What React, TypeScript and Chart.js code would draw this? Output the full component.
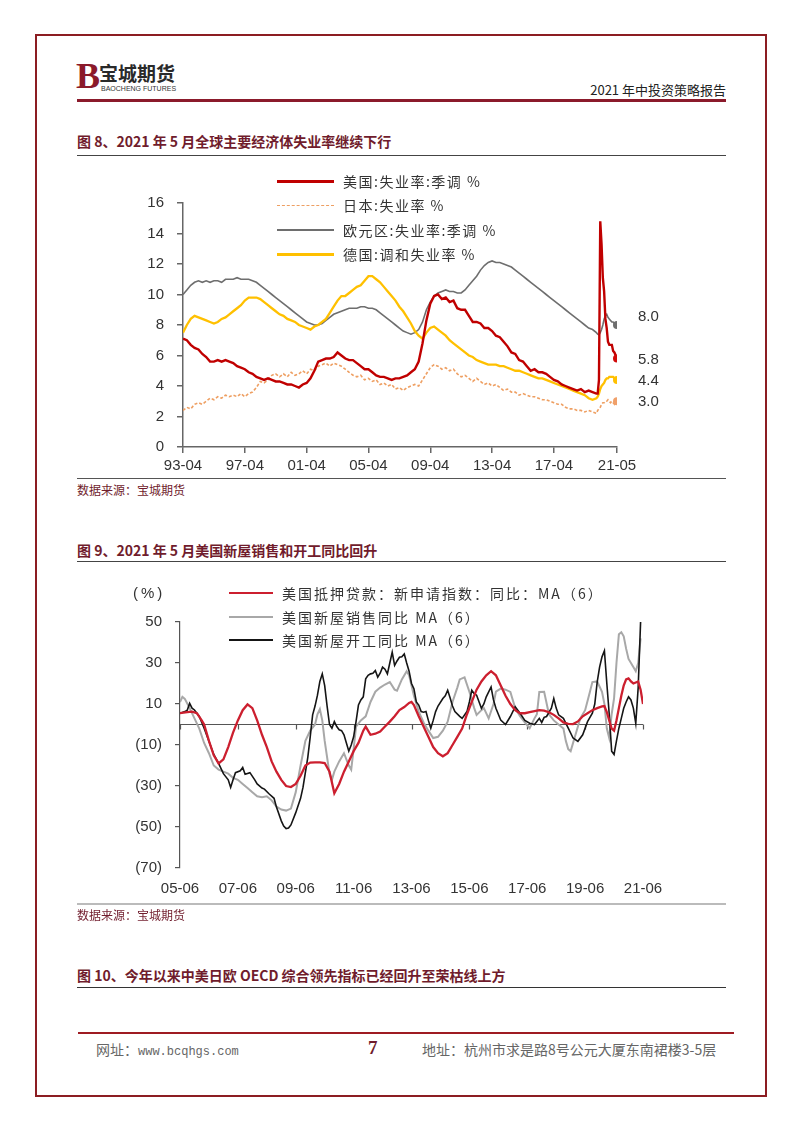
import React, { useEffect, useRef } from "react";
import { Chart, registerables } from "chart.js";

Chart.register(...registerables);

// ---------- Figure 8 data (x = months since 1993-04) ----------
const usRate: [number, number][] = [[0,7.1],[3,7.0],[6,6.7],[9,6.5],[12,6.4],[15,6.1],[18,5.9],[21,5.6],[24,5.6],[27,5.7],[30,5.6],[33,5.7],[36,5.6],[39,5.5],[42,5.3],[45,5.2],[48,5.1],[51,4.9],[54,4.8],[57,4.6],[60,4.5],[63,4.4],[66,4.5],[69,4.4],[72,4.3],[75,4.3],[78,4.2],[81,4.1],[84,4.1],[87,4.0],[90,3.9],[93,4.1],[96,4.2],[99,4.5],[102,5.0],[105,5.6],[108,5.7],[111,5.8],[114,5.8],[117,5.9],[120,6.2],[123,6.0],[126,5.8],[129,5.7],[132,5.7],[135,5.5],[138,5.3],[141,5.1],[144,5.1],[147,4.9],[150,4.7],[153,4.6],[156,4.6],[159,4.5],[162,4.4],[165,4.5],[168,4.5],[171,4.6],[174,4.7],[177,4.9],[180,5.1],[183,5.6],[186,6.8],[189,8.3],[192,9.4],[195,9.9],[198,10.0],[201,9.7],[204,9.8],[207,9.5],[210,9.6],[213,9.1],[216,9.0],[219,9.0],[222,8.6],[225,8.2],[228,8.2],[231,8.1],[234,7.8],[237,7.8],[240,7.6],[243,7.3],[246,7.2],[249,6.9],[252,6.6],[255,6.2],[258,6.1],[261,5.7],[264,5.6],[267,5.3],[270,5.0],[273,5.1],[276,4.9],[279,4.9],[282,4.8],[285,4.6],[288,4.4],[291,4.3],[294,4.1],[297,4.0],[300,3.9],[303,3.8],[306,3.7],[309,3.8],[312,3.6],[315,3.7],[318,3.6],[321,3.5],[322,3.5],[323,4.4],[324,14.8],[325,13.3],[326,11.1],[327,10.2],[328,8.4],[329,7.8],[330,6.9],[331,6.7],[332,6.7],[333,6.7],[334,6.3],[335,6.2],[336,6.0],[337,5.8]];

const japanRate: [number, number][] = [[0,2.4],[3,2.6],[6,2.5],[9,2.8],[12,2.9],[15,2.8],[18,3.0],[21,3.2],[24,3.1],[27,3.3],[30,3.2],[33,3.4],[36,3.3],[39,3.4],[42,3.3],[45,3.5],[48,3.3],[51,3.5],[54,3.6],[57,3.9],[60,4.3],[63,4.2],[66,4.4],[69,4.7],[72,4.8],[75,4.6],[78,4.8],[81,4.6],[84,4.9],[87,4.7],[90,4.8],[93,5.0],[96,4.8],[99,5.1],[102,5.0],[105,5.3],[108,5.4],[111,5.5],[114,5.3],[117,5.5],[120,5.4],[123,5.3],[126,5.1],[129,4.9],[132,4.7],[135,4.6],[138,4.7],[141,4.4],[144,4.5],[147,4.3],[150,4.4],[153,4.1],[156,4.2],[159,4.0],[162,4.1],[165,3.8],[168,3.9],[171,3.7],[174,3.9],[177,4.0],[180,4.1],[183,4.0],[186,4.4],[189,4.8],[192,5.2],[195,5.4],[198,5.3],[201,5.1],[204,5.2],[207,5.0],[210,5.1],[213,4.8],[216,4.6],[219,4.7],[222,4.5],[225,4.3],[228,4.5],[231,4.3],[234,4.1],[237,4.2],[240,4.0],[243,4.1],[246,3.9],[249,3.7],[252,3.8],[255,3.6],[258,3.6],[261,3.4],[264,3.5],[267,3.4],[270,3.3],[273,3.3],[276,3.2],[279,3.1],[282,3.1],[285,3.0],[288,2.9],[291,2.8],[294,2.8],[297,2.6],[300,2.5],[303,2.5],[306,2.4],[309,2.4],[312,2.3],[315,2.4],[318,2.3],[321,2.2],[322,2.4],[323,2.5],[324,2.6],[325,2.8],[326,2.9],[327,2.9],[328,3.0],[329,3.0],[330,3.1],[331,3.0],[332,2.9],[333,3.0],[334,2.9],[335,2.8],[336,3.0],[337,3.0]];

const euroRate: [number, number][] = [[0,10.0],[3,10.3],[6,10.6],[9,10.8],[12,10.9],[15,10.8],[18,10.9],[21,10.8],[24,10.9],[27,10.9],[30,10.8],[33,11.0],[36,11.0],[39,11.0],[42,11.1],[45,11.0],[48,11.0],[51,11.0],[54,10.9],[57,10.8],[60,10.6],[63,10.4],[66,10.2],[69,10.0],[72,9.8],[75,9.6],[78,9.4],[81,9.2],[84,9.0],[87,8.8],[90,8.6],[93,8.4],[96,8.2],[99,8.1],[102,8.0],[105,8.0],[108,8.1],[111,8.3],[114,8.5],[117,8.7],[120,8.8],[123,8.9],[126,9.0],[129,9.1],[132,9.1],[135,9.1],[138,9.2],[141,9.2],[144,9.1],[147,9.1],[150,9.0],[153,8.8],[156,8.6],[159,8.4],[162,8.2],[165,8.0],[168,7.8],[171,7.6],[174,7.5],[177,7.4],[180,7.5],[183,7.7],[186,8.2],[189,9.0],[192,9.5],[195,9.9],[198,10.1],[201,10.2],[204,10.3],[207,10.2],[210,10.2],[213,10.1],[216,10.1],[219,10.3],[222,10.6],[225,10.9],[228,11.2],[231,11.6],[234,11.9],[237,12.1],[240,12.2],[243,12.1],[246,12.1],[249,12.0],[252,11.9],[255,11.8],[258,11.6],[261,11.4],[264,11.2],[267,11.0],[270,10.8],[273,10.6],[276,10.4],[279,10.2],[282,10.0],[285,9.8],[288,9.6],[291,9.4],[294,9.2],[297,9.0],[300,8.8],[303,8.6],[306,8.4],[309,8.2],[312,8.0],[315,7.8],[318,7.7],[321,7.5],[322,7.4],[323,7.35],[324,7.5],[325,7.7],[326,8.0],[327,8.4],[328,8.6],[329,8.7],[330,8.5],[331,8.4],[332,8.3],[333,8.2],[334,8.2],[335,8.1],[336,8.1],[337,8.0]];

const germanyRate: [number, number][] = [[0,7.5],[3,8.0],[6,8.4],[9,8.6],[12,8.5],[15,8.4],[18,8.3],[21,8.2],[24,8.1],[27,8.2],[30,8.4],[33,8.5],[36,8.7],[39,8.9],[42,9.1],[45,9.3],[48,9.6],[51,9.8],[54,9.8],[57,9.8],[60,9.7],[63,9.5],[66,9.3],[69,9.1],[72,8.9],[75,8.7],[78,8.6],[81,8.4],[84,8.3],[87,8.2],[90,8.0],[93,7.9],[96,7.8],[99,7.7],[102,7.9],[105,8.0],[108,8.2],[111,8.4],[114,8.8],[117,9.2],[120,9.6],[123,9.9],[126,9.9],[129,10.1],[132,10.3],[135,10.5],[138,10.6],[141,10.9],[144,11.2],[147,11.2],[150,11.0],[153,10.8],[156,10.5],[159,10.2],[162,9.9],[165,9.6],[168,9.2],[171,8.9],[174,8.5],[177,8.1],[180,7.6],[183,7.3],[186,7.1],[189,7.5],[192,7.8],[195,7.9],[198,7.7],[201,7.5],[204,7.3],[207,7.0],[210,6.8],[213,6.6],[216,6.4],[219,6.2],[222,6.0],[225,5.9],[228,5.7],[231,5.6],[234,5.5],[237,5.4],[240,5.4],[243,5.4],[246,5.3],[249,5.3],[252,5.2],[255,5.1],[258,5.0],[261,5.0],[264,4.9],[267,4.8],[270,4.7],[273,4.6],[276,4.5],[279,4.5],[282,4.4],[285,4.3],[288,4.2],[291,4.1],[294,4.0],[297,3.9],[300,3.8],[303,3.7],[306,3.6],[309,3.5],[312,3.4],[315,3.2],[318,3.1],[321,3.2],[322,3.3],[323,3.5],[324,3.8],[325,4.0],[326,4.1],[327,4.2],[328,4.4],[329,4.5],[330,4.5],[331,4.6],[332,4.6],[333,4.6],[334,4.6],[335,4.5],[336,4.5],[337,4.4]];

const unempTickMonths = [0, 48, 96, 144, 192, 240, 288, 337];
const unempYTicks = [0, 2, 4, 6, 8, 10, 12, 14, 16];
const unempLegend = ["美国:失业率:季调 %", "日本:失业率 %", "欧元区:失业率:季调 %", "德国:调和失业率 %"];

// ---------- Figure 9 data (x = months since 2005-06) ----------
const mortgageYoY: [number, number][] = [[0,5.5],[3,6],[5,6.3],[7,5.5],[9,2],[10,0],[12,-8],[14,-15],[16,-19],[18,-17],[20,-11],[22,-4],[24,2],[26,7],[28,9.8],[30,8],[32,2],[34,-5],[36,-11],[38,-18],[40,-23],[42,-27],[44,-30],[46,-30.5],[48,-29],[50,-25],[52,-20],[54,-18.6],[56,-18.5],[58,-18.5],[60,-18.8],[62,-23],[64,-33.5],[66,-29],[68,-23],[70,-18],[72,-13],[74,-9],[76,-3],[77,-1],[79,-5],[81,-4.5],[83,-3.4],[85,-1],[87,1.4],[89,4],[91,7],[93,8.5],[95,10.5],[96,11],[97,9.5],[99,4],[101,-1],[103,-6],[105,-11],[107,-14],[109,-15.5],[111,-14],[113,-10],[115,-6],[117,-2],[119,5],[121,11],[123,17],[125,21],[127,24],[129,26],[131,24],[133,19],[135,14],[137,10],[139,7],[141,5.5],[143,5.5],[145,6],[147,6.5],[149,7],[151,6.8],[153,6],[155,4.7],[157,3],[159,1],[161,0.3],[163,0.2],[165,1.5],[167,4],[169,5.5],[171,7],[173,8],[175,8.8],[176,9],[177,6],[178,2],[179,-2],[180,-3],[181,2],[182,8],[183,14],[184,19],[185,22],[186,22.5],[187,21],[188,20],[189,20.5],[190,21],[191,17],[192,10]];

const homeSalesYoY: [number, number][] = [[0,11],[1,13.5],[2,12.5],[4,8],[6,3],[8,-2],[10,-9],[12,-14],[14,-20],[16,-22],[18,-23],[20,-24],[22,-26],[24,-27],[26,-29],[28,-31],[30,-33],[32,-35],[34,-35.5],[36,-35],[38,-37],[40,-40],[42,-41.5],[44,-42],[46,-41],[48,-33],[50,-20],[52,-8],[54,-3],[56,0],[57,5],[58,7.5],[59,2],[60,-8],[62,-24],[63,-27],[64,-23],[66,-18],[68,-14],[70,-20],[71,-22],[72,-12],[73,-1],[75,2],[77,4],[79,11],[81,16],[83,18],[85,19.5],[87,20.7],[89,17],[90,16.5],[92,22],[94,26],[95,24],[96,19],[97,14],[99,6.3],[101,1],[103,-3],[105,-6.6],[107,-6],[109,-3],[111,1.4],[113,11],[115,18],[116,22],[118,23],[120,16],[122,8],[123,4.7],[125,7],[126,8],[128,3],[130,10],[131,16],[133,17.5],[135,17],[137,15.9],[139,8],[141,4],[143,1],[145,-1.8],[147,3],[148,5],[149,15.9],[151,16],[153,5],[155,2],[157,0],[159,-2],[160,-8],[161,-12],[162,-13],[164,-5],[166,3],[168,7],[170,16],[171,20.7],[173,21],[175,16],[176,10],[177,-2],[178,-6.6],[179,5],[180,12.7],[181,30],[182,44],[183,45],[184,43],[185,37],[186,32],[188,28],[189,26],[190,30],[191,42]];

const housingStartsYoY: [number, number][] = [[0,5.5],[2,6.3],[3,7],[4,10.3],[5,8],[6,7.1],[8,3.9],[10,-1.8],[12,-8.2],[14,-14.6],[16,-19],[18,-24],[20,-27],[21,-30.7],[22,-27],[23,-23.5],[25,-22.6],[26,-21],[27,-24.3],[29,-23.5],[31,-27],[32,-29],[34,-31],[35,-31.5],[37,-33.9],[39,-36],[40,-40.3],[42,-47],[43,-49.5],[44,-50.8],[45,-50.5],[46,-49],[48,-43],[50,-36],[51,-30.7],[53,-16],[54,-6],[55,4.7],[56,9],[57,14.3],[58,21],[59,24.7],[60,19],[61,9],[62,0],[63,-1.8],[64,1.4],[65,-1],[66,-2.6],[67,-3],[68,-5],[69,-9],[70,-13],[71,-10],[72,-6],[73,1.4],[74,9.5],[75,12],[76,13.5],[77,22.3],[78,24],[79,24.7],[80,25],[81,26.3],[82,23.1],[83,25],[84,28],[85,27],[86,24.7],[87,30],[88,35.2],[89,28.8],[90,31],[91,32.8],[92,33],[93,34.4],[94,30],[95,26],[96,20],[97,17.5],[98,11],[99,9.5],[100,6.3],[101,6],[102,6.3],[103,2],[104,-1.8],[105,2],[106,6.3],[107,9],[109,12.7],[110,14],[111,16.7],[112,13],[113,9],[114,6.3],[116,4],[117,3],[119,6.3],[120,11],[121,16.7],[122,15],[123,14.3],[125,7.9],[126,10],[127,13.5],[129,18.3],[130,12],[131,7.9],[133,2.2],[135,0],[137,3.9],[139,8.7],[141,5.5],[143,2],[145,0.6],[147,0],[149,3],[150,1],[151,3.5],[152,3.9],[154,8],[155,12.7],[156,8],[157,4.7],[159,3],[161,-1.8],[163,-6.6],[165,-8.2],[167,-5],[169,1.4],[171,5.5],[172,10],[173,20.7],[174,28],[175,33],[176,36],[177,20],[178,5],[179,-13],[180,-14.6],[181,-8],[182,-1.8],[183,3],[184,7.9],[185,11],[186,13.5],[187,12],[188,8],[189,0.6],[190,18],[191,50]];

const housingTickMonths = [0, 24, 48, 72, 96, 120, 144, 168, 192];
const housingYTicks = [-70, -50, -30, -10, 10, 30, 50];
const housingLegend = ["美国抵押贷款：新申请指数：同比：MA（6）", "美国新屋销售同比 MA（6）", "美国新屋开工同比 MA（6）"];

// ---------- styles ----------
const MAROON = "#701C2C";
const AXIS = "#666666";
const SANS = '"Liberation Sans", Arial, sans-serif';
const CJK = '"Noto Sans CJK SC", "Liberation Sans", sans-serif';

Chart.defaults.font.family = SANS;
Chart.defaults.color = "#333333";

const monthLabel = (startYear: number, startMonth: number, m: number) => {
  const idx = startMonth - 1 + Math.round(m);
  const y = startYear + Math.floor(idx / 12);
  const mo = (idx % 12) + 1;
  return `${String(y % 100).padStart(2, "0")}-${String(mo).padStart(2, "0")}`;
};

const toXY = (arr: [number, number][]) => arr.map(([x, y]) => ({ x, y }));

function UnemploymentChart() {
  const ref = useRef<HTMLCanvasElement>(null);
  useEffect(() => {
    const lastDot = (n: number) => (c: any) => (c.dataIndex === n - 1 ? 4 : 0);
    const endLabels = {
      id: "endLabels",
      afterDatasetsDraw(chart: any) {
        const ctx = chart.ctx;
        chart.data.datasets.forEach((ds: any, i: number) => {
          const meta = chart.getDatasetMeta(i);
          const pt = meta.data[meta.data.length - 1];
          const v = ds.data[ds.data.length - 1].y;
          ctx.save();
          ctx.font = `15px ${SANS}`;
          ctx.fillStyle = "#333";
          ctx.textAlign = "left";
          ctx.textBaseline = "middle";
          ctx.fillText(v.toFixed(1), pt.x + 21, pt.y + (ds.labelShift || 0));
          ctx.restore();
        });
      },
    };
    const gridCfg = { display: true, drawOnChartArea: false, drawTicks: true, tickLength: 6, color: AXIS, lineWidth: 1.5 };
    const chart = new Chart(ref.current!, {
      type: "line",
      data: {
        datasets: [
          { label: unempLegend[0], data: toXY(usRate), borderColor: "#C00000", backgroundColor: "#D10A0A", borderWidth: 2.4, pointRadius: lastDot(usRate.length), pointBorderWidth: 0, labelShift: 1 } as any,
          { label: unempLegend[3], data: toXY(germanyRate), borderColor: "#FFC000", backgroundColor: "#FFC000", borderWidth: 2.3, pointRadius: lastDot(germanyRate.length), pointBorderWidth: 0, labelShift: 1 } as any,
          { label: unempLegend[1], data: toXY(japanRate), borderColor: "#EE9F62", backgroundColor: "#F0A06A", borderWidth: 1.6, borderDash: [3, 2], pointRadius: lastDot(japanRate.length), pointBorderWidth: 0, labelShift: 1 } as any,
          { label: unempLegend[2], data: toXY(euroRate), borderColor: "#6E6E6E", backgroundColor: "#6E6E6E", borderWidth: 1.6, pointRadius: lastDot(euroRate.length), pointBorderWidth: 0, labelShift: -8 } as any,
        ],
      },
      options: {
        animation: false,
        responsive: false,
        layout: { padding: { top: 33, right: 83, bottom: 0, left: 0 } },
        plugins: { legend: { display: false }, tooltip: { enabled: false } },
        elements: { line: { tension: 0 } },
        scales: {
          x: {
            type: "linear",
            min: 0,
            max: 337,
            afterFit: (s: any) => { s.height = 33; },
            afterBuildTicks: (s: any) => { s.ticks = unempTickMonths.map((v) => ({ value: v })); },
            ticks: { autoSkip: false, maxRotation: 0, padding: 4, color: "#333", font: { size: 15 }, callback: (v: any) => monthLabel(1993, 4, Number(v)) },
            grid: gridCfg,
            border: { display: true, color: AXIS, width: 1.5 },
          },
          y: {
            min: 0,
            max: 16,
            afterFit: (s: any) => { s.width = 83; },
            afterBuildTicks: (s: any) => { s.ticks = unempYTicks.map((v) => ({ value: v })); },
            ticks: { padding: 13, color: "#333", font: { size: 15 } },
            grid: gridCfg,
            border: { display: true, color: AXIS, width: 1.5 },
          },
        },
      } as any,
      plugins: [endLabels],
    });
    return () => chart.destroy();
  }, []);
  return <canvas ref={ref} width={600} height={310} style={{ position: "absolute", left: 100, top: 170, width: 600, height: 310 }} />;
}

function HousingChart() {
  const ref = useRef<HTMLCanvasElement>(null);
  useEffect(() => {
    const zeroLine = {
      id: "zeroLine",
      beforeDatasetsDraw(chart: any) {
        const { ctx, scales } = chart;
        const x = scales.x;
        const y0 = scales.y.getPixelForValue(0);
        ctx.save();
        ctx.strokeStyle = "#555";
        ctx.lineWidth = 1.2;
        ctx.beginPath();
        ctx.moveTo(x.getPixelForValue(housingTickMonths[0]), y0);
        ctx.lineTo(x.getPixelForValue(housingTickMonths[housingTickMonths.length - 1]), y0);
        housingTickMonths.forEach((m) => {
          const px = Math.round(x.getPixelForValue(m)) + 0.5;
          ctx.moveTo(px, y0);
          ctx.lineTo(px, y0 + 5);
        });
        ctx.stroke();
        ctx.restore();
      },
    };
    const chart = new Chart(ref.current!, {
      type: "line",
      data: {
        datasets: [
          { label: housingLegend[0], data: toXY(mortgageYoY), borderColor: "#CC1F2F", borderWidth: 2.3, pointRadius: 0 },
          { label: housingLegend[2], data: toXY(housingStartsYoY), borderColor: "#151515", borderWidth: 1.6, pointRadius: 0 },
          { label: housingLegend[1], data: toXY(homeSalesYoY), borderColor: "#A8A8A8", borderWidth: 2, pointRadius: 0 },
        ],
      },
      options: {
        animation: false,
        responsive: false,
        layout: { padding: { top: 19, right: 57, bottom: 0, left: 0 } },
        plugins: { legend: { display: false }, tooltip: { enabled: false } },
        elements: { line: { tension: 0 } },
        scales: {
          x: {
            type: "linear",
            min: 0,
            max: 192,
            afterFit: (s: any) => { s.height = 42; },
            afterBuildTicks: (s: any) => { s.ticks = housingTickMonths.map((v) => ({ value: v })); },
            ticks: { autoSkip: false, maxRotation: 0, padding: 4, color: "#333", font: { size: 15 }, callback: (v: any) => monthLabel(2005, 6, Number(v)) },
            grid: { display: false },
            border: { display: false },
          },
          y: {
            min: -70,
            max: 50,
            afterFit: (s: any) => { s.width = 80; },
            afterBuildTicks: (s: any) => { s.ticks = housingYTicks.map((v) => ({ value: v })); },
            ticks: { padding: 13, color: "#333", font: { size: 15 }, callback: (v: any) => (Number(v) < 0 ? `(${-Number(v)})` : `${v}`) },
            grid: { display: true, drawOnChartArea: false, drawTicks: true, tickLength: 5, color: "#555", lineWidth: 1.2 },
            border: { display: true, color: "#555", width: 1.2 },
          },
        },
      } as any,
      plugins: [zeroLine],
    });
    return () => chart.destroy();
  }, []);
  return <canvas ref={ref} width={600} height={310} style={{ position: "absolute", left: 100, top: 600, width: 600, height: 310 }} />;
}

const abs = (left: number, top: number, extra: React.CSSProperties = {}): React.CSSProperties => ({ position: "absolute", left, top, ...extra });

function LegendRow({ x, y, lineW, text, line, spacing }: { x: number; y: number; lineW: number; text: string; line: React.CSSProperties; spacing: number }) {
  return (
    <div style={abs(x, y - 10, { height: 20, display: "flex", alignItems: "center", whiteSpace: "nowrap" })}>
      <div style={{ width: lineW, ...line }} />
      <span style={{ marginLeft: 9, fontFamily: CJK, fontSize: 14, color: "#333", letterSpacing: spacing, lineHeight: "20px" }}>{text}</span>
    </div>
  );
}

export default function App() {
  const hr = (top: number, color: string, h = 1, left = 77, width = 649): React.CSSProperties => abs(left, top, { width, height: h, background: color });
  const titleStyle = (top: number): React.CSSProperties => abs(77, top, { fontFamily: CJK, fontWeight: 700, fontSize: 14, lineHeight: "16px", color: MAROON, whiteSpace: "nowrap" });
  const sourceStyle = (top: number): React.CSSProperties => abs(77, top, { fontFamily: CJK, fontSize: 12, lineHeight: "14px", color: MAROON, whiteSpace: "nowrap" });
  return (
    <div style={{ position: "absolute", left: 0, top: 0, width: 802, height: 1133, background: "#fff", overflow: "hidden", fontFamily: SANS }}>
      {/* page frame */}
      <div style={abs(35, 34, { width: 732, height: 1063, border: "2px solid #8C1D22", boxSizing: "border-box" })} />

      {/* header */}
      <div style={abs(76, 57, { fontFamily: '"Liberation Serif", serif', fontWeight: 700, fontSize: 36, lineHeight: "38px", color: "#8B1A2B" })}>B</div>
      <div style={abs(99, 62, { fontFamily: CJK, fontWeight: 700, fontSize: 19, lineHeight: "22px", color: "#2a2a2a", letterSpacing: 0 })}>宝城期货</div>
      <div style={abs(101, 85, { fontFamily: SANS, fontSize: 7, lineHeight: "8px", color: "#333", whiteSpace: "nowrap" })}>BAOCHENG FUTURES</div>
      <div style={abs(540, 82, { width: 186, textAlign: "right", fontFamily: CJK, fontSize: 13, lineHeight: "16px", color: "#222", whiteSpace: "nowrap" })}>2021 年中投资策略报告</div>
      <div style={hr(99, "#8B1A2B", 3)} />

      {/* figure 8 */}
      <div style={titleStyle(133)}>图 8、2021 年 5 月全球主要经济体失业率继续下行</div>
      <div style={hr(155, "#444")} />
      <UnemploymentChart />
      <LegendRow x={277} y={181} lineW={57} text={unempLegend[0]} spacing={1.5} line={{ height: 3, background: "#C00000" }} />
      <LegendRow x={277} y={205} lineW={57} text={unempLegend[1]} spacing={1.5} line={{ height: 0, borderTop: "1.5px dashed #EE9F62" }} />
      <LegendRow x={277} y={230} lineW={57} text={unempLegend[2]} spacing={1.5} line={{ height: 2, background: "#6E6E6E" }} />
      <LegendRow x={277} y={254} lineW={57} text={unempLegend[3]} spacing={1.5} line={{ height: 3, background: "#FFC000" }} />
      <div style={hr(478, "#555")} />
      <div style={sourceStyle(483)}>数据来源：宝城期货</div>

      {/* figure 9 */}
      <div style={titleStyle(542)}>图 9、2021 年 5 月美国新屋销售和开工同比回升</div>
      <div style={hr(561, "#444")} />
      <HousingChart />
      <div style={abs(133, 584, { fontFamily: SANS, fontSize: 15, lineHeight: "18px", color: "#333", letterSpacing: 3 })}>(%)</div>
      <LegendRow x={229} y={593} lineW={44} text={housingLegend[0]} spacing={2} line={{ height: 2, background: "#CC1F2F" }} />
      <LegendRow x={229} y={617} lineW={44} text={housingLegend[1]} spacing={2} line={{ height: 2, background: "#A8A8A8" }} />
      <LegendRow x={229} y={640} lineW={44} text={housingLegend[2]} spacing={2} line={{ height: 2, background: "#151515" }} />
      <div style={hr(903, "#bbb", 2)} />
      <div style={sourceStyle(908)}>数据来源：宝城期货</div>

      {/* figure 10 title */}
      <div style={titleStyle(967)}>图 10、今年以来中美日欧 OECD 综合领先指标已经回升至荣枯线上方</div>
      <div style={hr(987, "#333")} />

      {/* footer */}
      <div style={hr(1032, "#9E1B22", 2, 78, 656)} />
      <div style={abs(96, 1040, { fontFamily: CJK, fontSize: 14, lineHeight: "18px", color: "#666", whiteSpace: "nowrap" })}>
        网址：<span style={{ fontFamily: '"Liberation Mono", monospace', fontSize: 12 }}>www.bcqhgs.com</span>
      </div>
      <div style={abs(368, 1037, { fontFamily: '"Liberation Serif", serif', fontWeight: 700, fontSize: 19, lineHeight: "22px", color: MAROON })}>7</div>
      <div style={abs(422, 1040, { fontFamily: CJK, fontSize: 14, lineHeight: "18px", color: "#666", whiteSpace: "nowrap" })}>地址：杭州市求是路8号公元大厦东南裙楼3-5层</div>
    </div>
  );
}
